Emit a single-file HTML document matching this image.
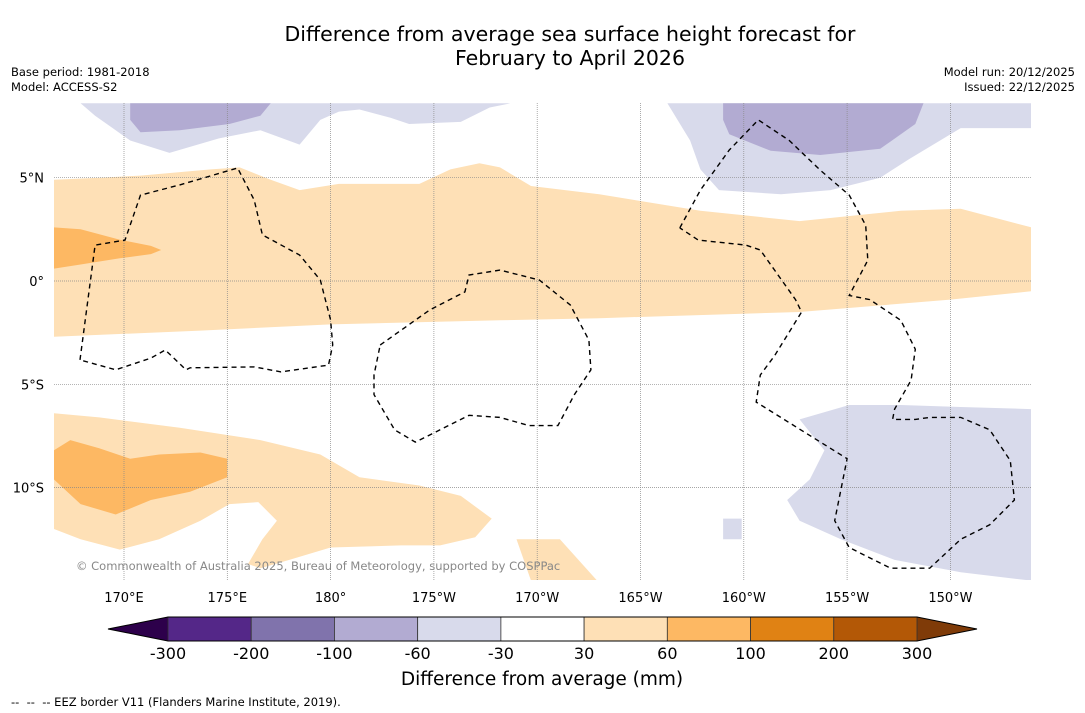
<!DOCTYPE html>
<html><head><meta charset="utf-8"><style>
html,body{margin:0;padding:0;background:#fff;}
body{width:1085px;height:713px;position:relative;overflow:hidden;font-family:"DejaVu Sans","Liberation Sans",sans-serif;}
.t{position:absolute;white-space:nowrap;color:#000;}
</style></head><body>
<div class="t" style="left:0;width:1140px;top:22px;text-align:center;font-size:20.5px;line-height:24px;">Difference from average sea surface height forecast for<br>February to April 2026</div>
<div class="t" style="left:11px;top:65px;font-size:11.5px;line-height:15px;">Base period: 1981-2018<br>Model: ACCESS-S2</div>
<div class="t" style="right:10px;top:65px;font-size:11.5px;line-height:15px;text-align:right;">Model run: 20/12/2025<br>Issued: 22/12/2025</div>
<svg id="chart" width="1085" height="713" style="position:absolute;left:0;top:0" xmlns="http://www.w3.org/2000/svg" font-family="DejaVu Sans, Liberation Sans, sans-serif"></svg>
<div class="t" style="left:11px;top:695px;font-size:11.5px;">-- &nbsp;-- &nbsp;-- EEZ border V11 (Flanders Marine Institute, 2019).</div>
<script>
// Colorbar data
const levels = [-300,-200,-100,-60,-30,30,60,100,200,300];
const binColors = ["#542788","#8073ac","#b2abd2","#d8daeb","#ffffff","#fee0b6","#fdb863","#e08214","#b35806"];
const underColor = "#2d004b";
const overColor = "#7f3b08";
// Axis ticks
const lonTicks = [170,175,180,185,190,195,200,205,210];
const lonLabels = ["170°E","175°E","180°","175°W","170°W","165°W","160°W","155°W","150°W"];
const latTicks = [5,0,-5,-10];
const latLabels = ["5°N","0°","5°S","10°S"];
// Contour regions (lon east 0-360, lat), with fill level index
const nwLight = [[166.6,8.6],[188.7,8.6],[187.7,8.4],[186.3,7.7],[183.8,7.6],[182.9,7.9],[181.4,8.3],[180.4,8.2],[179.5,7.8],[178.5,6.6],[176.6,7.3],[174.6,6.9],[172.2,6.2],[170.3,6.8],[168.6,8.0],[167.9,8.6]];
const nwDark = [[170.3,8.6],[177.1,8.6],[176.6,8.0],[175.1,7.6],[172.7,7.3],[170.8,7.2],[170.3,7.8]];
const neLight = [[196.3,8.6],[213.9,8.6],[213.9,7.4],[210.5,7.4],[208.0,5.9],[206.6,5.0],[204.2,4.4],[201.8,4.2],[198.8,4.4],[197.9,5.4],[197.4,6.8]];
const neDark = [[199.0,8.6],[208.7,8.6],[208.3,7.6],[206.6,6.4],[203.7,6.1],[201.3,6.3],[199.3,7.1],[199.0,7.8]];
const seLight = [[202.7,-6.7],[205.1,-6.0],[207.6,-6.0],[210.5,-6.1],[213.9,-6.2],[213.9,-14.5],[210.5,-14.1],[207.3,-13.5],[204.7,-12.5],[202.7,-11.6],[202.1,-10.6],[203.2,-9.6],[203.9,-8.2]];
const seSmall = [[199.0,-11.5],[199.9,-11.5],[199.9,-12.5],[199.0,-12.5]];
const eqBand = [[166.6,4.9],[168.8,5.0],[170.8,5.1],[174.2,5.4],[175.6,5.5],[177.1,4.9],[178.5,4.4],[180.4,4.7],[184.3,4.7],[185.8,5.4],[187.2,5.7],[188.2,5.5],[189.7,4.6],[193.0,4.2],[197.9,3.4],[202.7,2.9],[207.6,3.4],[210.5,3.5],[213.9,2.6],[213.9,-0.5],[210.0,-0.9],[202.7,-1.5],[193.0,-1.8],[188.2,-1.9],[180.0,-2.1],[173.7,-2.4],[166.6,-2.7]];
const eqDark = [[166.6,2.6],[167.9,2.5],[169.8,2.0],[171.3,1.7],[171.8,1.5],[171.3,1.3],[169.8,1.1],[167.9,0.8],[166.6,0.6]];
const sBand = [[166.6,-6.4],[168.8,-6.6],[172.7,-7.1],[176.6,-7.7],[179.5,-8.4],[181.4,-9.5],[184.3,-9.9],[186.3,-10.4],[187.8,-11.5],[187.0,-12.4],[185.3,-12.8],[183.4,-12.8],[180.0,-12.9],[178.0,-13.5],[176.6,-13.9],[176.0,-13.7],[176.7,-12.5],[177.4,-11.6],[176.5,-10.7],[175.1,-10.8],[173.7,-11.6],[171.7,-12.5],[169.8,-13.0],[167.9,-12.5],[166.6,-12.0]];
const sStrip = [[189.0,-12.5],[191.1,-12.5],[192.9,-14.5],[189.7,-14.5]];
const sDark = [[166.6,-8.2],[167.4,-7.7],[168.8,-8.1],[170.3,-8.6],[171.7,-8.4],[173.7,-8.3],[175.0,-8.6],[175.0,-9.5],[173.2,-10.2],[171.3,-10.6],[169.6,-11.3],[167.9,-10.8],[166.6,-9.6]];
const regions = [[nwLight,3],[neLight,3],[seLight,3],[seSmall,3],[nwDark,2],[neDark,2],[eqBand,5],[sBand,5],[sStrip,5],[eqDark,6],[sDark,6]];
const regionNames = ["nw-negative-region","ne-negative-region","se-negative-region","se-small-negative-region","nw-strong-negative-region","ne-strong-negative-region","equatorial-positive-band","southern-positive-band","southern-positive-strip","equatorial-strong-positive-region","southern-strong-positive-region"];
// EEZ borders
const eezA = [[167.87,-3.82],[168.6,1.74],[170.05,1.98],[170.8,4.16],[172.7,4.65],[175.5,5.47],[176.3,3.92],[176.7,2.23],[178.5,1.26],[179.5,0.05],[180.0,-1.89],[180.1,-3.1],[179.9,-4.07],[177.6,-4.4],[176.3,-4.16],[173.2,-4.2],[173.0,-4.3],[172.0,-3.34],[171.3,-3.73],[169.6,-4.3],[167.87,-3.82]];
const eezB = [[182.4,-3.1],[184.8,-1.4],[186.5,-0.53],[186.7,0.29],[188.2,0.53],[190.1,0.05],[191.6,-1.16],[192.5,-2.86],[192.6,-4.3],[191.8,-5.5],[191.0,-7.0],[189.6,-7.0],[188.2,-6.6],[186.7,-6.5],[185.3,-7.2],[184.1,-7.8],[183.1,-7.2],[182.1,-5.5],[182.1,-4.55],[182.4,-3.1]];
const eezC = [[196.9,2.57],[197.9,4.4],[199.3,6.34],[200.7,7.8],[202.2,6.8],[203.7,5.37],[205.1,4.16],[205.9,2.7],[206.0,1.0],[205.1,-0.7],[206.1,-0.9],[207.6,-1.9],[208.3,-3.3],[208.1,-4.8],[207.3,-6.2],[207.2,-6.7],[208.3,-6.7],[209.0,-6.6],[210.5,-6.6],[211.9,-7.2],[212.9,-8.7],[213.1,-10.6],[211.9,-11.8],[210.5,-12.5],[209.0,-13.9],[207.1,-13.9],[205.1,-12.9],[204.4,-11.6],[205.0,-8.6],[200.6,-5.86],[200.8,-4.55],[201.5,-3.6],[202.8,-1.5],[202.5,-0.9],[200.8,1.5],[200.1,1.74],[197.8,1.98],[196.9,2.57]];

const NS="http://www.w3.org/2000/svg";
const svg=document.getElementById('chart');
const MAP={x0:54,x1:1031,y0:103,y1:580};
const X=lon=>124+(lon-170)*20.66;
const Y=lat=>281-lat*20.66;
function mk(tag,attrs,parent){const e=document.createElementNS(NS,tag);for(const k in attrs)e.setAttribute(k,attrs[k]);(parent||svg).appendChild(e);return e;}
const pts=a=>a.map(p=>X(p[0]).toFixed(1)+','+Y(p[1]).toFixed(1)).join(' ');

const cp=mk('clipPath',{id:'mapclip'});
mk('rect',{x:MAP.x0,y:MAP.y0,width:MAP.x1-MAP.x0,height:MAP.y1-MAP.y0},cp);
const g=mk('g',{'clip-path':'url(#mapclip)'});


regions.forEach((r,i)=>{
  const p=mk('polygon',{points:pts(r[0]),fill:binColors[r[1]]},g);
  
  
});
lonTicks.forEach(l=>{const ln=mk('line',{x1:X(l),x2:X(l),y1:MAP.y0,y2:MAP.y1,stroke:'#888','stroke-width':0.7,'stroke-dasharray':'1,1'},g);
  
  });
latTicks.forEach(l=>{const ln=mk('line',{x1:MAP.x0,x2:MAP.x1,y1:Y(l),y2:Y(l),stroke:'#888','stroke-width':0.7,'stroke-dasharray':'1,1'},g);
  
  });
[eezA,eezB,eezC].forEach(e=>{const pl=mk('polyline',{points:pts(e),fill:'none',stroke:'#000','stroke-width':1.4,'stroke-dasharray':'5,4'},g);
  
  });
const wm=mk('text',{x:76,y:570,'font-size':11.5,fill:'#888'},g);wm.textContent='© Commonwealth of Australia 2025, Bureau of Meteorology, supported by COSPPac';


lonTicks.forEach((l,i)=>{const t=mk('text',{x:X(l),y:602,'font-size':13,'text-anchor':'middle'});t.textContent=lonLabels[i];
  
  });
latTicks.forEach((l,i)=>{const t=mk('text',{x:44,y:Y(l)+5,'font-size':13,'text-anchor':'end'});t.textContent=latLabels[i];
  
  });
const CB={x0:168,x1:917,y0:617,y1:641,ext:60};
const segW=(CB.x1-CB.x0)/binColors.length;
const cbg=mk('g',{});


const lt=mk('polygon',{points:`${CB.x0},${CB.y0} ${CB.x0-CB.ext},${(CB.y0+CB.y1)/2} ${CB.x0},${CB.y1}`,fill:underColor},cbg);


const rt=mk('polygon',{points:`${CB.x1},${CB.y0} ${CB.x1+CB.ext},${(CB.y0+CB.y1)/2} ${CB.x1},${CB.y1}`,fill:overColor},cbg);


binColors.forEach((c,i)=>{const r=mk('rect',{x:CB.x0+i*segW,y:CB.y0,width:segW,height:CB.y1-CB.y0,fill:c,stroke:'#333','stroke-width':0.8},cbg);
  
  });
mk('polygon',{points:`${CB.x0-CB.ext},${(CB.y0+CB.y1)/2} ${CB.x0},${CB.y0} ${CB.x1},${CB.y0} ${CB.x1+CB.ext},${(CB.y0+CB.y1)/2} ${CB.x1},${CB.y1} ${CB.x0},${CB.y1}`,fill:'none',stroke:'#000','stroke-width':1},cbg);
levels.forEach((v,i)=>{const t=mk('text',{x:CB.x0+i*segW,y:659,'font-size':16,'text-anchor':'middle'},cbg);t.textContent=String(v);
  
  });
const ct=mk('text',{x:542,y:685,'font-size':18.5,'text-anchor':'middle'});ct.textContent='Difference from average (mm)';


</script>
</body></html>
